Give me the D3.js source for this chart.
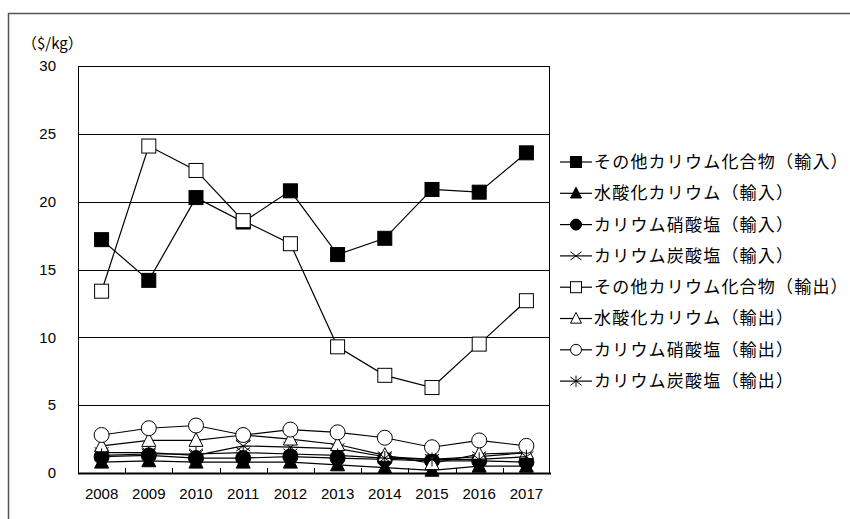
<!DOCTYPE html>
<html><head><meta charset="utf-8">
<script src="https://cdn.jsdelivr.net/npm/d3@7"></script>
<style>body{margin:0;background:#fff}svg{display:block}</style>
</head><body><svg id="c" width="850" height="519"></svg>
<script>
const years = ["2008","2009","2010","2011","2012","2013","2014","2015","2016","2017"];
const yTicks = [0,5,10,15,20,25,30];
const seriesNames = ["その他カリウム化合物（輸入）","水酸化カリウム（輸入）","カリウム硝酸塩（輸入）","カリウム炭酸塩（輸入）","その他カリウム化合物（輸出）","水酸化カリウム（輸出）","カリウム硝酸塩（輸出）","カリウム炭酸塩（輸出）"];
const markerTypes = ["squareFill","triFill","circleFill","x","square","tri","circle","star"];
const otherImport = [17.2,14.2,20.3,18.5,20.8,16.1,17.3,20.9,20.7,23.6];
const hydroxideImport = [0.8,0.9,0.8,0.8,0.8,0.6,0.4,0.2,0.5,0.5];
const nitrateImport = [1.2,1.3,1.1,1.1,1.2,1.1,1.0,0.9,0.9,0.8];
const carbonateImport = [1.5,1.5,1.3,2.0,1.9,1.8,1.2,1.0,1.2,1.5];
const otherExport = [13.4,24.1,22.3,18.6,16.9,9.3,7.2,6.3,9.5,12.7];
const hydroxideExport = [2.0,2.4,2.4,2.8,2.5,2.1,1.3,0.7,1.4,1.5];
const nitrateExport = [2.8,3.3,3.5,2.8,3.2,3.0,2.6,1.9,2.4,2.0];
const carbonateExport = [1.3,1.4,1.4,1.5,1.4,1.3,1.1,1.0,1.0,1.2];
const seriesValues = [otherImport,hydroxideImport,nitrateImport,carbonateImport,otherExport,hydroxideExport,nitrateExport,carbonateExport];

const svg = d3.select("#c");
const L=78, R=550, T=66, B=473;
const x = d3.scaleBand().domain(years).range([L,R]);
const y = d3.scaleLinear().domain([0,30]).range([B,T]);
const numFont = "'Liberation Sans', Arial, sans-serif";
const jpFont = "'Noto Sans CJK JP', sans-serif";

// outer frame
svg.append("rect").attr("x",8.5).attr("y",13.5).attr("width",900).attr("height",600)
  .attr("fill","none").attr("stroke","#555").attr("stroke-width",1.5);

// gridlines
svg.append("g").selectAll("line").data(yTicks.filter(d=>d>0)).join("line")
  .attr("x1",L).attr("x2",R).attr("y1",d=>Math.round(y(d))+0.5).attr("y2",d=>Math.round(y(d))+0.5)
  .attr("stroke","#000").attr("stroke-width",1);
// plot frame
svg.append("rect").attr("x",L+0.5).attr("y",T+0.5).attr("width",R-L-1).attr("height",B-T)
  .attr("fill","none").attr("stroke","#000").attr("stroke-width",1);
svg.append("line").attr("x1",L).attr("x2",R+1).attr("y1",B+0.5).attr("y2",B+0.5).attr("stroke","#000").attr("stroke-width",2);

// y tick labels
svg.append("g").selectAll("text").data(yTicks).join("text")
  .attr("x",56).attr("y",d=>y(d)).attr("dy","0.35em").attr("text-anchor","end")
  .attr("font-family",numFont).attr("font-size",15).text(d=>d);
// x axis ticks (inside)
const xb = years.map(d=>x(d)).slice(1);
svg.append("g").selectAll("line").data(xb).join("line")
  .attr("x1",d=>Math.round(d)+0.5).attr("x2",d=>Math.round(d)+0.5).attr("y1",B).attr("y2",B-5)
  .attr("stroke","#000");
svg.append("g").selectAll("text").data(years).join("text")
  .attr("x",d=>x(d)+x.bandwidth()/2).attr("y",494).attr("dy","0.35em").attr("text-anchor","middle")
  .attr("font-family",numFont).attr("font-size",15).text(d=>d);
// unit label
svg.append("text").attr("x",22).attr("y",44).attr("dy","0.35em")
  .attr("font-family",jpFont).attr("font-size",15).text("（$/kg）");

function marker(g, type, cx, cy, s){
  const h=s/2;
  if(type==="squareFill"||type==="square"){
    g.append("rect").attr("x",cx-h).attr("y",cy-h).attr("width",s).attr("height",s)
      .attr("fill",type==="square"?"#fff":"#000").attr("stroke","#000").attr("stroke-width",1);
  } else if(type==="triFill"||type==="tri"){
    g.append("path").attr("d",`M${cx},${cy-h*1.1}L${cx+h},${cy+h*0.85}L${cx-h},${cy+h*0.85}Z`)
      .attr("fill",type==="tri"?"#fff":"#000").attr("stroke","#000").attr("stroke-width",1);
  } else if(type==="circleFill"||type==="circle"){
    g.append("circle").attr("cx",cx).attr("cy",cy).attr("r",h)
      .attr("fill",type==="circle"?"#fff":"#000").attr("stroke","#000").attr("stroke-width",1);
  } else if(type==="x"){
    g.append("path").attr("d",`M${cx-h},${cy-h*0.75}L${cx+h},${cy+h*0.75}M${cx-h},${cy+h*0.75}L${cx+h},${cy-h*0.75}`)
      .attr("stroke","#000").attr("stroke-width",1);
  } else if(type==="star"){
    g.append("path").attr("d",`M${cx-h},${cy-h*0.75}L${cx+h},${cy+h*0.75}M${cx-h},${cy+h*0.75}L${cx+h},${cy-h*0.75}M${cx},${cy-h}L${cx},${cy+h}`)
      .attr("stroke","#000").attr("stroke-width",1);
  }
}

const line = d3.line().x((d,i)=>x(years[i])+x.bandwidth()/2).y(d=>y(d));
seriesValues.forEach((vals,si)=>{
  const g = svg.append("g");
  g.append("path").datum(vals).attr("d",line).attr("fill","none").attr("stroke","#000").attr("stroke-width",1.2);
  const type = markerTypes[si];
  const size = (type==="circle"||type==="circleFill")?15:14;
  vals.forEach((v,i)=>marker(g,type,x(years[i])+x.bandwidth()/2,y(v),size));
});

// legend
const legY0=162, legStep=31.3;
seriesNames.forEach((name,i)=>{
  const g = svg.append("g");
  const cy = legY0 + i*legStep;
  g.append("line").attr("x1",560).attr("x2",592).attr("y1",cy).attr("y2",cy).attr("stroke","#000").attr("stroke-width",1.2);
  marker(g, markerTypes[i], 576, cy, 11);
  g.append("text").attr("x",594).attr("y",cy).attr("dy","0.35em")
    .attr("font-family",jpFont).attr("font-size",17).attr("letter-spacing","1.2px").text(name);
});
</script></body></html>
